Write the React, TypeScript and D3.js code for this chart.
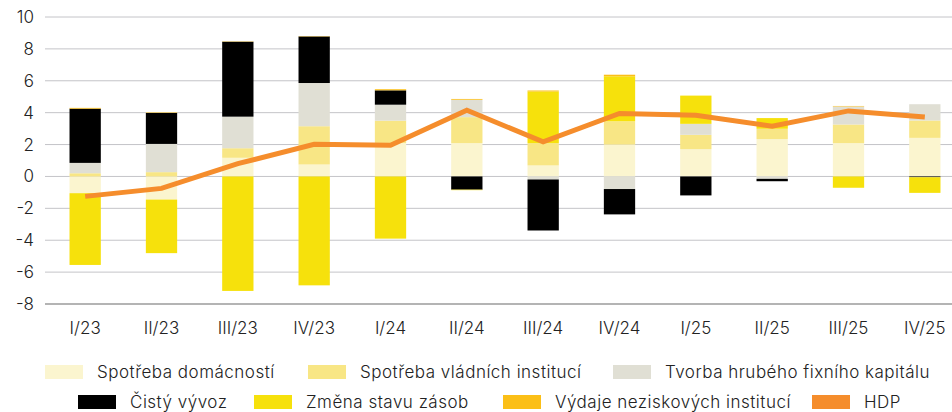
import React from 'react';
import * as d3 from 'd3';

const width = 952;
const height = 412;

const quarters = ['I/23', 'II/23', 'III/23', 'IV/23', 'I/24', 'II/24', 'III/24', 'IV/24', 'I/25', 'II/25', 'III/25', 'IV/25'];
const yTicks = [-8, -6, -4, -2, 0, 2, 4, 6, 8, 10];

// příspěvky k růstu HDP (p.b.)
const domacnosti = [-1.05, -1.45, 1.17, 0.75, 2.1, 2.09, 0.69, 2.0, 1.71, 2.34, 2.09, 2.42];
const vladni = [0.2, 0.27, 0.6, 2.4, 1.4, 1.63, 1.4, 1.46, 0.9, 0.65, 1.17, 1.09];
const tvorba = [0.65, 1.77, 1.98, 2.71, 1.0, 1.09, -0.19, -0.79, 0.69, -0.15, 1.13, 1.02];
const vyvoz = [3.4, 1.94, 4.7, 2.92, 0.9, -0.83, -3.2, -1.59, -1.19, -0.15, 0, -0.05];
const zasoby = [-4.5, -3.36, -7.18, -6.83, -3.9, -0.03, 3.24, 2.82, 1.77, 0.67, -0.71, -0.98];
const neziskove = [0.05, 0.03, 0.02, 0.02, 0.07, 0.05, 0.06, 0.1, 0, 0, 0.03, 0];
const hdp = [-1.25, -0.75, 0.8, 2.02, 1.95, 4.15, 2.17, 3.95, 3.84, 3.15, 4.11, 3.73];

const series = [
  { key: 'dom', name: 'Spotřeba domácností', color: '#fbf5cf', values: domacnosti },
  { key: 'vla', name: 'Spotřeba vládních institucí', color: '#f8e685', values: vladni },
  { key: 'tvo', name: 'Tvorba hrubého fixního kapitálu', color: '#e0dfd4', values: tvorba },
  { key: 'vyv', name: 'Čistý vývoz', color: '#000000', values: vyvoz },
  { key: 'zas', name: 'Změna stavu zásob', color: '#f6e10c', values: zasoby },
  { key: 'nez', name: 'Výdaje neziskových institucí', color: '#fbbf17', values: neziskove },
];
const hdpColor = '#f58d2c';

const legendRows = [
  [{ name: series[0].name, color: series[0].color, x: 45 }, { name: series[1].name, color: series[1].color, x: 308 }, { name: series[2].name, color: series[2].color, x: 613 }],
  [{ name: series[3].name, color: series[3].color, x: 78 }, { name: series[4].name, color: series[4].color, x: 254 }, { name: series[5].name, color: series[5].color, x: 503 }, { name: 'HDP', color: hdpColor, x: 812 }],
];

const font = 'Inter, "Noto Sans", sans-serif';

export default function App() {
  const x = d3.scaleBand().domain(quarters).range([47, 963]).paddingInner(0.59).paddingOuter(0.295);
  const y = d3.scaleLinear().domain([-8, 10]).range([304, 17]);

  const table = quarters.map((q, i) => {
    const row: any = { q };
    series.forEach((s) => (row[s.key] = s.values[i]));
    return row;
  });
  const stacked = d3.stack().keys(series.map((s) => s.key)).offset(d3.stackOffsetDiverging)(table);

  const line = d3.line<number>()
    .x((_, i) => x(quarters[i])! + x.bandwidth() / 2)
    .y((d) => y(d));

  return (
    <svg width={width} height={height} style={{ position: 'absolute', left: 0, top: 0 }} fontFamily={font}>
      {yTicks.map((t) => (
        <g key={t}>
          <line x1={45} x2={952} y1={y(t)} y2={y(t)} stroke={t === -8 ? '#b4b4b4' : '#c4c4c8'} strokeWidth={t === -8 ? 2 : 1} />
          <text x={34} y={y(t)} dy="0.35em" textAnchor="end" fontSize={17} fontWeight={300} fill="#222">{t}</text>
        </g>
      ))}
      {stacked.map((layer, li) => (
        <g key={layer.key} fill={series[li].color}>
          {layer.map((d, i) => (
            <rect key={i} x={x(quarters[i])} width={x.bandwidth()} y={y(Math.max(d[0], d[1]))} height={Math.abs(y(d[0]) - y(d[1]))} />
          ))}
        </g>
      ))}
      <path d={line(hdp)!} fill="none" stroke={hdpColor} strokeWidth={5} />
      {quarters.map((q) => (
        <text key={q} x={x(q)! + x.bandwidth() / 2} y={334} textAnchor="middle" fontSize={17} fontWeight={300} fill="#222">{q}</text>
      ))}
      {legendRows.map((row, ri) => (
        <g key={ri}>
          {row.map((it) => (
            <g key={it.name} transform={`translate(${it.x},${372 + ri * 30})`}>
              <rect x={0} y={-7} width={38} height={14} fill={it.color} />
              <text x={52} dy="0.35em" fontSize={17} fontWeight={300} letterSpacing={0.5} fill="#222">{it.name}</text>
            </g>
          ))}
        </g>
      ))}
    </svg>
  );
}
